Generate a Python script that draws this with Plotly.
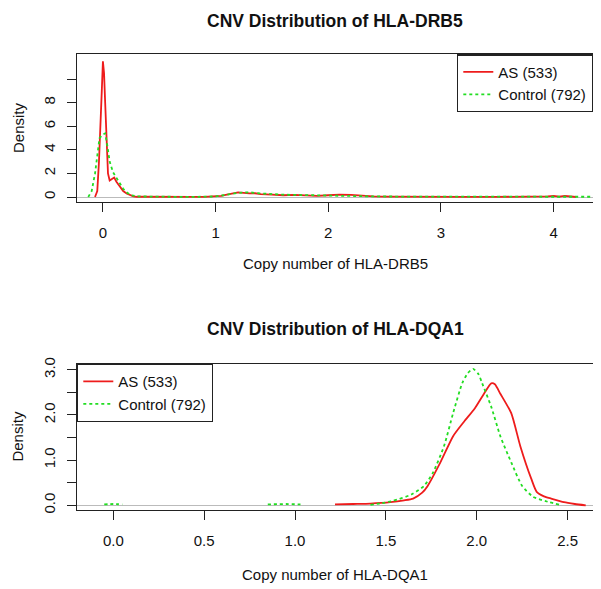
import plotly.graph_objects as go

# ---------------- Data ----------------
# HLA-DRB5 densities
drb5_as_x = [-0.07, -0.05, -0.035, -0.02, -0.01, 0.0, 0.01, 0.02, 0.03, 0.045, 0.06, 0.08, 0.1, 0.12,
             0.15, 0.18, 0.21, 0.24, 0.27, 0.3, 0.4, 0.5, 0.6, 0.7, 0.8, 0.9, 1.0, 1.05, 1.1, 1.15,
             1.2, 1.25, 1.3, 1.35, 1.4, 1.5, 1.6, 1.7, 1.8, 1.9, 2.0, 2.1, 2.2, 2.3, 2.4, 2.5, 2.6,
             2.7, 2.8, 2.9, 3.0, 3.1, 3.2, 3.5, 3.8, 3.95, 4.0, 4.05, 4.1, 4.15, 4.2]
drb5_as_y = [0, 0.5, 3, 6, 9, 11.5, 10.5, 8, 5, 2, 1.4, 1.5, 1.65, 1.3,
             0.9, 0.5, 0.3, 0.15, 0.05, 0.02, 0.03, 0.02, 0.04, 0.02, 0.01, 0.01, 0.05, 0.1, 0.2, 0.3,
             0.4, 0.35, 0.3, 0.32, 0.25, 0.2, 0.15, 0.18, 0.12, 0.1, 0.15, 0.2, 0.18, 0.1, 0.05, 0.04, 0.03,
             0.02, 0.03, 0.06, 0.04, 0.02, 0.01, 0.01, 0.01, 0.05, 0.1, 0.04, 0.1, 0.03, 0.0]

drb5_ctrl_x = [-0.13, -0.1, -0.07, -0.05, -0.03, 0.0, 0.02, 0.04, 0.06, 0.09, 0.12, 0.15, 0.18, 0.21,
               0.25, 0.3, 0.4, 0.6, 0.8, 1.0, 1.1, 1.2, 1.3, 1.4, 1.6, 1.8, 2.0, 2.2, 2.4, 2.6, 2.8,
               3.0, 3.2, 3.5, 3.8, 4.0, 4.2, 4.35]
drb5_ctrl_y = [0, 0.5, 2, 3.4, 5, 5.3, 5.4, 4.3, 3.0, 2.1, 1.6, 1.1, 0.7, 0.4,
               0.15, 0.05, 0.02, 0.02, 0.01, 0.05, 0.2, 0.35, 0.4, 0.3, 0.2, 0.15, 0.12, 0.1, 0.05, 0.04, 0.03,
               0.03, 0.02, 0.02, 0.02, 0.03, 0.02, 0.02]

# HLA-DQA1 densities
dqa1_as_x = [1.22, 1.32, 1.415, 1.525, 1.60, 1.65, 1.70, 1.73, 1.80, 1.87, 1.93, 1.99, 2.04, 2.08,
             2.10, 2.13, 2.19, 2.24, 2.30, 2.33, 2.37, 2.41, 2.48, 2.54, 2.60]
dqa1_as_y = [0.02, 0.03, 0.04, 0.07, 0.11, 0.15, 0.28, 0.43, 0.95, 1.53, 1.85, 2.15, 2.47, 2.70,
             2.68, 2.47, 2.04, 1.31, 0.59, 0.30, 0.20, 0.15, 0.07, 0.03, 0.0]

dqa1_ctrl_x = [-0.05, 0.0, 0.05, None, 0.85, 0.95, 1.03, None, 1.415, 1.48, 1.54, 1.64, 1.71, 1.76,
               1.82, 1.87, 1.92, 1.95, 1.98, 2.01, 2.03, 2.08, 2.13, 2.19, 2.25, 2.31, 2.39, 2.46]
dqa1_ctrl_y = [0.02, 0.03, 0.02, None, 0.02, 0.03, 0.02, None, 0.01, 0.05, 0.1, 0.24, 0.43, 0.73,
               1.31, 2.04, 2.70, 2.92, 3.02, 2.90, 2.70, 2.18, 1.53, 0.95, 0.43, 0.19, 0.08, 0.01]

series_names = ["AS (533)", "Control (792)"]
titles = ["CNV Distribution of HLA-DRB5", "CNV Distribution of HLA-DQA1"]
xlabels = ["Copy number of HLA-DRB5", "Copy number of HLA-DQA1"]
ylabel = "Density"

top_x_ticks = [0, 1, 2, 3, 4]
top_y_ticks = [0, 2, 4, 6, 8, 10]
top_y_text = ["0", "2", "4", "6", "8", ""]
bot_x_ticks = [0.0, 0.5, 1.0, 1.5, 2.0, 2.5]
bot_x_text = ["0.0", "0.5", "1.0", "1.5", "2.0", "2.5"]
bot_y_ticks = [0.0, 0.5, 1.0, 1.5, 2.0, 2.5, 3.0]
bot_y_text = ["0.0", "", "1.0", "", "2.0", "", "3.0"]

# ---------------- Style / layout ----------------
RED = "#ee1c1c"
GREEN = "#22dd22"
FONT = "Liberation Sans, Arial, sans-serif"

# the page body has an 8px margin; lay out in window pixels and convert
OFF = 8
W, H = 601 - OFF, 589 - OFF


def px(x):
    return (x - OFF) / W


def py(y):
    return 1 - (y - OFF) / H


fig = go.Figure()
fig.add_trace(go.Scatter(x=drb5_as_x, y=drb5_as_y, mode="lines", name=series_names[0],
                         line=dict(color=RED, width=1.8), xaxis="x", yaxis="y", legend="legend"))
fig.add_trace(go.Scatter(x=drb5_ctrl_x, y=drb5_ctrl_y, mode="lines", name=series_names[1],
                         line=dict(color=GREEN, width=1.8, dash="3px,3px"), xaxis="x", yaxis="y",
                         legend="legend"))
fig.add_trace(go.Scatter(x=dqa1_as_x, y=dqa1_as_y, mode="lines", name=series_names[0],
                         line=dict(color=RED, width=1.8, shape="spline", smoothing=0.6),
                         xaxis="x2", yaxis="y2", legend="legend2"))
fig.add_trace(go.Scatter(x=dqa1_ctrl_x, y=dqa1_ctrl_y, mode="lines", name=series_names[1],
                         line=dict(color=GREEN, width=1.8, dash="3px,3px", shape="spline", smoothing=0.6),
                         xaxis="x2", yaxis="y2", legend="legend2", connectgaps=False))

axis_common = dict(showline=True, mirror=True, linecolor="#222", linewidth=1.3,
                   ticks="outside", ticklen=9, tickwidth=1.3, tickcolor="#222",
                   showgrid=False, tickfont=dict(size=15, color="#111", family=FONT))

xdom = [px(77), px(593)]
fig.update_layout(
    width=W, height=H,
    margin=dict(l=0, r=0, t=0, b=0),
    paper_bgcolor="white", plot_bgcolor="white",
    font=dict(family=FONT, color="#111"),
    xaxis=dict(domain=xdom, anchor="y", range=[-0.23, 4.35],
               tickvals=top_x_ticks, zeroline=False, ticklabelstandoff=8, **axis_common),
    yaxis=dict(domain=[py(198), py(48)], anchor="x", range=[-0.4, 12.1],
               tickvals=top_y_ticks, ticktext=top_y_text, tickangle=-90,
               zeroline=True, zerolinecolor="#bbbbbb", zerolinewidth=1.2,
               ticklabelstandoff=6, **axis_common),
    xaxis2=dict(domain=xdom, anchor="y2", range=[-0.2, 2.64],
                tickvals=bot_x_ticks, ticktext=bot_x_text, zeroline=False,
                ticklabelstandoff=8, **axis_common),
    yaxis2=dict(domain=[py(512), py(363)], anchor="x2", range=[-0.11, 3.13],
                tickvals=bot_y_ticks, ticktext=bot_y_text, tickangle=-90,
                zeroline=True, zerolinecolor="#bbbbbb", zerolinewidth=1.2,
                ticklabelstandoff=6, **axis_common),
    legend=dict(x=px(593), y=py(48), xanchor="right", yanchor="top",
                bordercolor="#222", borderwidth=1.3, bgcolor="white",
                font=dict(size=15, family=FONT), itemwidth=30, tracegroupgap=0),
    legend2=dict(x=px(77), y=py(363), xanchor="left", yanchor="top",
                 bordercolor="#222", borderwidth=1.3, bgcolor="white",
                 font=dict(size=15, family=FONT), itemwidth=30, tracegroupgap=0),
    showlegend=True,
)

annotations = [
    dict(text="<b>" + titles[0] + "</b>", x=px(335), y=py(14), font=dict(size=17.5)),
    dict(text="<b>" + titles[1] + "</b>", x=px(335), y=py(328), font=dict(size=17.5)),
    dict(text=xlabels[0], x=px(335), y=py(261), font=dict(size=15)),
    dict(text=xlabels[1], x=px(335), y=py(577), font=dict(size=15)),
    dict(text=ylabel, x=px(18), y=py(123), textangle=-90, font=dict(size=15)),
    dict(text=ylabel, x=px(18), y=py(437), textangle=-90, font=dict(size=15)),
]
for a in annotations:
    a.update(xref="paper", yref="paper", showarrow=False, xanchor="center", yanchor="middle")
    a["font"].update(family=FONT, color="#111")
fig.update_layout(annotations=annotations)

fig.write_html("out.html")
